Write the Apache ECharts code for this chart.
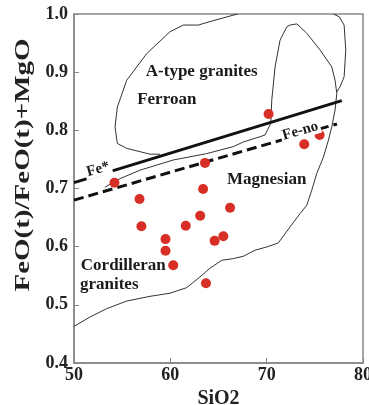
<!DOCTYPE html>
<html><head><meta charset="utf-8">
<script src="https://cdn.jsdelivr.net/npm/echarts@6/dist/echarts.min.js"></script>
<style>html,body{margin:0;padding:0;background:#fff}#c{width:369px;height:405px}</style>
</head><body><div id="c"></div>
<script>
// Sample data
var sio2 = [54.2, 70.2, 73.9, 75.5, 63.6, 63.4, 56.8, 57.0, 61.6, 63.1, 66.2, 59.5, 59.5, 60.3, 64.6, 65.5, 63.7];
var feoRatio = [0.710, 0.828, 0.776, 0.792, 0.744, 0.699, 0.682, 0.635, 0.636, 0.653, 0.667, 0.613, 0.593, 0.568, 0.610, 0.618, 0.537];

// Fe* (ferroan/magnesian) boundary
var feStarX = [50, 77.8];
var feStarY = [0.710, 0.851];
// Fe-no boundary (dashed)
var feNoX = [50, 77.3];
var feNoY = [0.680, 0.811];

// Cordilleran granites field outline
var cordX = [50, 51.66, 53.40, 55.47, 57.89, 59.97, 61.70, 63.08, 64.12, 65.34, 66.54, 67.58, 68.80, 70.01, 71.21, 72.43, 73.47, 74.16, 74.68, 75.20, 75.89, 76.41, 76.76, 77.10, 77.28, 77.10, 76.76, 75.55, 74.16, 73.13, 72.43, 72.09, 71.39, 70.87, 70.53, 70.43, 69.83, 69.31, 67.58, 66.54, 63.78, 60.31, 56.85, 54.78, 53.74, 53.2];
var cordY = [0.463, 0.479, 0.4935, 0.5065, 0.5146, 0.520, 0.5296, 0.548, 0.563, 0.5766, 0.5795, 0.5835, 0.594, 0.5995, 0.6064, 0.634, 0.657, 0.671, 0.697, 0.726, 0.754, 0.783, 0.806, 0.835, 0.8635, 0.886, 0.909, 0.938, 0.967, 0.983, 0.981, 0.978, 0.955, 0.909, 0.852, 0.812, 0.792, 0.789, 0.780, 0.772, 0.760, 0.749, 0.7315, 0.717, 0.7074, 0.702];

// A-type granites field outline (left part, and right part)
var atypeLeftX = [58.93, 57.89, 55.47, 54.50, 54.26, 54.50, 55.47, 57.55, 59.97, 61.35, 62.91, 64.12, 66.96];
var atypeLeftY = [0.759, 0.759, 0.769, 0.7775, 0.806, 0.840, 0.886, 0.932, 0.9695, 0.981, 0.981, 0.987, 1.0];
var atypeRightX = [76.93, 77.55, 78.04, 78.21, 78.04, 77.62, 77.28];
var atypeRightY = [1.0, 0.995, 0.981, 0.938, 0.892, 0.875, 0.866];

// Axis ticks and titles
var xTicks = [50, 60, 70, 80];
var yTicks = [0.4, 0.5, 0.6, 0.7, 0.8, 0.9, 1.0];
var xTitle = 'SiO2';
var yTitle = 'FeO(t)/FeO(t)+MgO';

// Annotations
var noteX = [63.26, 59.63, 70.0, 55.12, 50.62, 52.5, 73.5];
var noteY = [0.9007, 0.852, 0.716, 0.568, 0.534, 0.733, 0.799];
var noteText = ['A-type granites', 'Ferroan', 'Magnesian', 'Cordilleran', 'granites', 'Fe*', 'Fe-no'];

function zip(a, b) { return a.map(function (v, i) { return [v, b[i]]; }); }

var FONT = '"Liberation Serif", "Times New Roman", serif';
var chart = echarts.init(document.getElementById('c'));
var outline = { color: '#333', width: 1 };

chart.setOption({
  animation: false,
  grid: { left: 74, right: 6, top: 14, bottom: 42, show: false, containLabel: false, outerBoundsMode: 'none' },
  xAxis: {
    type: 'value', min: 50, max: 80, interval: 10,
    name: xTitle, nameLocation: 'middle', nameGap: 24,
    nameTextStyle: { fontFamily: FONT, fontWeight: 'bold', fontSize: 20, color: '#222' },
    axisLine: { onZero: false, lineStyle: { color: '#888', width: 1.5 } },
    axisTick: { inside: true, length: 5, lineStyle: { color: '#888' } },
    axisLabel: { margin: 3, fontFamily: FONT, fontWeight: 'bold', fontSize: 18, color: '#222',
      hideOverlap: false, showMinLabel: true, showMaxLabel: true,
      formatter: function (v) { return xTicks.indexOf(v) >= 0 ? String(v) : ''; } },
    splitLine: { show: false }
  },
  yAxis: {
    type: 'value', min: 0.4, max: 1.0, interval: 0.1,
    axisLine: { onZero: false, lineStyle: { color: '#888', width: 1.5 } },
    axisTick: { inside: true, length: 5, lineStyle: { color: '#888' } },
    axisLabel: { margin: 6, fontFamily: FONT, fontWeight: 'bold', fontSize: 18, color: '#222',
      showMinLabel: true, showMaxLabel: true,
      formatter: function (v) { return v.toFixed(1); } },
    splitLine: { show: false }
  },
  graphic: [{
    type: 'rect', shape: { x: 74, y: 14, width: 289, height: 349 },
    style: { fill: 'none', stroke: '#888', lineWidth: 1.5 }, z: 0, silent: true
  }, {
    type: 'text', x: 24, y: 165, rotation: Math.PI / 2, scaleX: 1.38, silent: true,
    style: { text: yTitle, font: 'bold 21px ' + FONT, fill: '#222', align: 'center', verticalAlign: 'middle' }
  }],
  series: [
    { type: 'line', data: zip(cordX, cordY), symbol: 'none', lineStyle: outline, z: 2 },
    { type: 'line', data: zip(atypeLeftX, atypeLeftY), symbol: 'none', lineStyle: outline, z: 2 },
    { type: 'line', data: zip(atypeRightX, atypeRightY), symbol: 'none', lineStyle: outline, z: 2 },
    { type: 'line', data: zip(feStarX, feStarY), symbol: 'none', lineStyle: { color: '#111', width: 3 }, z: 3 },
    { type: 'line', data: zip(feNoX, feNoY), symbol: 'none', lineStyle: { color: '#111', width: 3, type: [10, 5] }, z: 3 },
    { type: 'scatter', data: zip(sio2, feoRatio), symbolSize: 10, itemStyle: { color: '#d72f26', opacity: 1 }, z: 5 },
    {
      type: 'scatter', symbolSize: 1, itemStyle: { color: 'rgba(0,0,0,0)', opacity: 1 }, z: 6, silent: true,
      data: noteX.map(function (x, i) {
        var isLine = i >= 5;
        return {
          value: [x, noteY[i]],
          label: {
            show: true, position: 'inside', formatter: noteText[i], rotate: isLine ? 16 : 0,
            align: i === 4 ? 'left' : 'center', verticalAlign: 'middle',
            fontFamily: FONT, fontWeight: 'bold', fontSize: isLine ? 15 : 17, color: '#1a1a1a',
            textBorderWidth: 0, textShadowBlur: 0,
            backgroundColor: isLine ? '#fff' : 'transparent', padding: isLine ? [0, 2] : 0
          }
        };
      })
    }
  ]
});
</script></body></html>
